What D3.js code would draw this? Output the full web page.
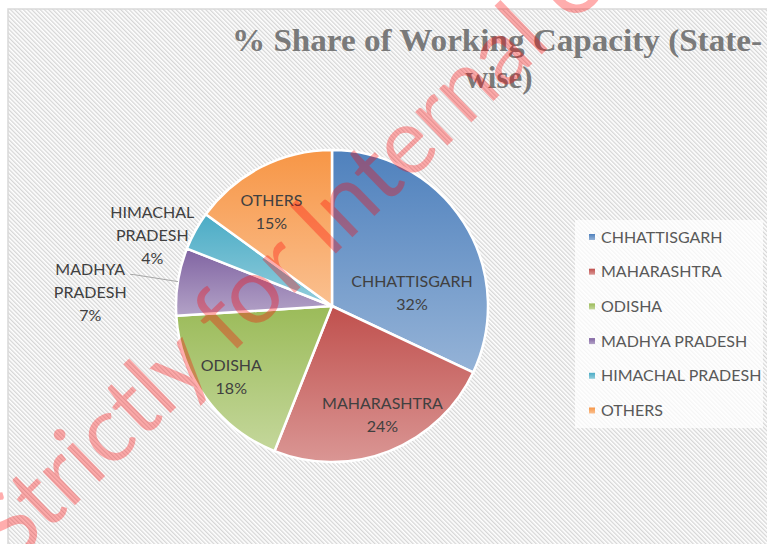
<!DOCTYPE html>
<html>
<head>
<meta charset="utf-8">
<script src="https://cdn.jsdelivr.net/npm/d3@7/dist/d3.min.js"></script>
<style>
  html, body { margin: 0; padding: 0; background: #fff; }
  svg { display: block; }
</style>
</head>
<body>
<div id="chart"></div>
<script>
// Data
const categories = ['CHHATTISGARH', 'MAHARASHTRA', 'ODISHA', 'MADHYA PRADESH', 'HIMACHAL PRADESH', 'OTHERS'];
const shares = [32, 24, 18, 7, 4, 15];
const labelLines = [['CHHATTISGARH'], ['MAHARASHTRA'], ['ODISHA'], ['MADHYA', 'PRADESH'], ['HIMACHAL', 'PRADESH'], ['OTHERS']];
const titleLines = ['% Share of Working Capacity (State-', 'wise)'];
const watermark = 'Strictly for Internal Use';

// Styles
const topColors = ['#4f81bd', '#c0504d', '#9bbb59', '#8064a2', '#4bacc6', '#f79646'];
const bottomColors = ['#95b3d7', '#da9694', '#c4d79b', '#b3a2c7', '#92cddc', '#fac090'];
const W = 767, H = 544;
const cx = 332, cy = 306, R = 156;
// label placement: [radius factor, dx, dy] relative to arc point (Excel best-fit look)
const labelPlace = [[0.6, 1, 37], [0.6, 16, 22], [0.6, -25, 16], [1.29, -43, 18], [1.3, -2, 27], [0.6, -18, -11]];
const lineH = 23;
const labelFont = 'Lato, "Open Sans", sans-serif';

const svg = d3.select('#chart').append('svg').attr('width', W).attr('height', H);
const defs = svg.append('defs');

// hatched chart background
const hatch = defs.append('pattern')
  .attr('id', 'hatch').attr('patternUnits', 'userSpaceOnUse')
  .attr('width', 3).attr('height', 3)
  .attr('patternTransform', 'rotate(-45)');
hatch.append('rect').attr('width', 3).attr('height', 3).attr('fill', '#fff');
hatch.append('rect').attr('width', 1.3).attr('height', 3).attr('fill', '#d6d6d6');

topColors.forEach((c, i) => {
  const g = defs.append('linearGradient').attr('id', 'grad' + i)
    .attr('x1', 0).attr('y1', 0).attr('x2', 0).attr('y2', 1);
  g.append('stop').attr('offset', '0%').attr('stop-color', c);
  g.append('stop').attr('offset', '100%').attr('stop-color', bottomColors[i]);
});

svg.append('rect')
  .attr('x', 8).attr('y', 9).attr('width', W).attr('height', H)
  .attr('fill', 'url(#hatch)')
  .attr('stroke', '#d9d9d9').attr('stroke-width', 1.5);

// title
const title = svg.append('text')
  .attr('text-anchor', 'middle')
  .attr('font-family', '"Liberation Serif", "DejaVu Serif", serif')
  .attr('font-weight', 'bold')
  .attr('font-size', 31)
  .attr('fill', '#7a7a7a');
title.append('tspan').attr('x', 497).attr('y', 51).attr('textLength', 530).attr('lengthAdjust', 'spacingAndGlyphs').text(titleLines[0]);
title.append('tspan').attr('x', 499).attr('y', 88).text(titleLines[1]);

// pie
const pie = d3.pie().sort(null).value(d => d);
const arcs = pie(shares);
const arc = d3.arc().innerRadius(0).outerRadius(R);
const g = svg.append('g').attr('transform', `translate(${cx},${cy})`);

g.selectAll('path.slice').data(arcs).join('path')
  .attr('class', 'slice')
  .attr('d', arc)
  .attr('fill', (d, i) => `url(#grad${i})`)
  .attr('stroke', '#fff')
  .attr('stroke-width', 2.5)
  .attr('stroke-linejoin', 'round');

// leader line for MADHYA PRADESH
const mp = arcs[3];
const edge = d3.arc().innerRadius(R).outerRadius(R).centroid(mp);
const outPt = d3.arc().innerRadius(R * 1.29).outerRadius(R * 1.29).centroid(mp);
g.append('polyline')
  .attr('points', [edge, outPt, [outPt[0] - 3, outPt[1]]].map(p => p.join(',')).join(' '))
  .attr('fill', 'none').attr('stroke', '#a6a6a6').attr('stroke-width', 1);

// data labels
arcs.forEach((d, i) => {
  const [rf, dx, dy] = labelPlace[i];
  const p = d3.arc().innerRadius(0).outerRadius(R * rf * 2).centroid(d);
  const lines = labelLines[i].concat([shares[i] + '%']);
  const t = g.append('text')
    .attr('text-anchor', 'middle')
    .attr('font-family', labelFont)
    .attr('font-size', 16)
    .attr('fill', '#404040');
  lines.forEach((ln, k) => {
    t.append('tspan')
      .attr('x', p[0] + dx)
      .attr('y', p[1] + dy + (k - (lines.length - 1) / 2) * lineH)
      .attr('dy', '0.35em')
      .text(ln);
  });
});

// legend
svg.append('rect').attr('x', 575).attr('y', 220).attr('width', 188).attr('height', 208)
  .attr('fill', '#fff').attr('opacity', 0.75);
const legend = svg.append('g').attr('transform', 'translate(589,237)');
const lg = legend.selectAll('g').data(categories).join('g')
  .attr('transform', (d, i) => `translate(0,${i * 34.7})`);
lg.append('rect').attr('x', 0).attr('y', -3).attr('width', 6).attr('height', 6)
  .attr('fill', (d, i) => `url(#grad${i})`);
lg.append('text').attr('x', 12).attr('dy', '0.35em')
  .attr('font-family', labelFont).attr('font-size', 16).attr('fill', '#595959')
  .text(d => d);

// watermark
svg.append('text')
  .attr('transform', 'translate(12,566) rotate(-44)')
  .attr('font-family', labelFont)
  .attr('font-size', 92)
  .attr('fill', '#ff0000').attr('fill-opacity', 0.32)
  .text(watermark);
</script>
</body>
</html>
